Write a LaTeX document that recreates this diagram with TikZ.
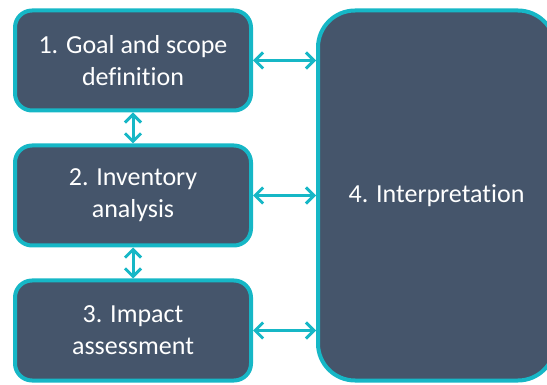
\documentclass[tikz,border=0pt]{standalone}
\usepackage{fontspec}
\setmainfont{Carlito}[Ligatures=NoCommon]
\usetikzlibrary{positioning}
\usetikzlibrary{arrows.meta}
\definecolor{slate}{RGB}{69,85,107}
\definecolor{lcacyan}{RGB}{22,183,198}
\tikzset{stage/.style={rectangle, rounded corners=17pt, fill=slate, draw=lcacyan,
line width=4pt, text=white, align=center, minimum width=236pt,
minimum height=100pt, font=\fontsize{26}{32}\selectfont},
interp/.style={stage, rounded corners=37pt, minimum width=237pt, minimum height=370pt},
link/.style={draw=lcacyan, line width=3pt},
>={Straight Barb[length=8pt,width=16pt]}}

\begin{document}
\begin{tikzpicture}[x=1pt,y=-1pt]
  \useasboundingbox (0,0) rectangle (547,385);
  \node (goal) [stage] at (133,60.5) {1. Goal and scope\\definition};
  \node (inv) [stage, below=31pt of goal] {2. Inventory\\analysis};
  \node (imp) [stage, below=31pt of inv] {3. Impact\\assessment};
  \node (interp) [interp, right=63pt of inv] {4. Interpretation};
  \draw [link,<->] (goal) -- (inv);
  \draw [link,<->] (inv) -- (imp);
  \draw [link,<->] (goal.east) -- (goal.east -| interp.west);
  \draw [link,<->] (inv.east) -- (interp.west);
  \draw [link,<->] (imp.east) -- (imp.east -| interp.west);
\end{tikzpicture}
\end{document}
